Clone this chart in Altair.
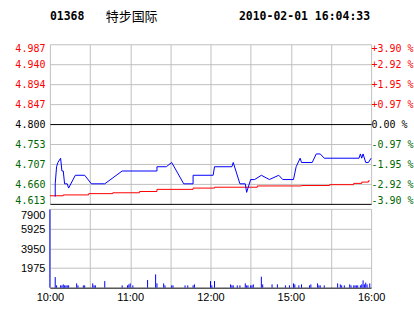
import altair as alt
import pandas as pd

# ---------------- data ----------------
stock_code = "01368"
stock_name = "特步国际"
stamp = "2010-02-01 16:04:33"

# intraday price vertices (minute index from 10:00, lunch break removed)
price_min = [4, 4, 5, 6, 8, 9, 10, 11, 13, 14,
             19, 26, 31, 41, 54, 80, 80, 87, 91, 100,
             107, 107, 122, 123, 136, 137, 142, 146, 147, 148,
             150, 153, 158, 164, 171, 174, 182, 184, 187, 188,
             196, 199, 202, 205, 231, 232, 233, 234, 236, 238,
             240]
price_val = [4.63, 4.66, 4.70, 4.71, 4.72, 4.69, 4.69, 4.66, 4.66, 4.65,
             4.68, 4.68, 4.66, 4.66, 4.69, 4.69, 4.70, 4.70, 4.71, 4.66,
             4.66, 4.68, 4.68, 4.70, 4.70, 4.71, 4.66, 4.66, 4.64, 4.65,
             4.67, 4.67, 4.68, 4.67, 4.68, 4.67, 4.67, 4.70, 4.72, 4.71,
             4.71, 4.73, 4.73, 4.72, 4.72, 4.73, 4.72, 4.73, 4.71, 4.71,
             4.72]

# average price (step line)
avg_min = [0, 10, 29, 47, 67, 80, 107, 123, 155, 188, 209, 227, 233, 238, 239]
avg_val = [4.632, 4.634, 4.637, 4.639, 4.642, 4.647, 4.650, 4.652, 4.655,
           4.656, 4.658, 4.661, 4.664, 4.667, 4.667]

# volume per minute
vol_min = [0, 4, 5, 8, 9, 10, 11, 12, 13, 14,
           20, 21, 25, 26, 32, 33, 34, 41, 54, 58,
           59, 60, 62, 73, 79, 80, 85, 86, 91, 92,
           101, 103, 107, 108, 120, 121, 123, 135, 136, 137,
           140, 142, 146, 147, 148, 150, 151, 152, 158, 159,
           166, 170, 176, 179, 182, 183, 186, 188, 194, 195,
           200, 201, 202, 205, 215, 217, 218, 220, 224, 225,
           227, 228, 229, 230, 232, 233, 234, 235, 236, 237,
           239]
vol_val = [7850, 1060, 230, 230, 230, 330, 230, 230, 230, 230,
           430, 230, 230, 230, 430, 230, 230, 660, 230, 230,
           330, 430, 230, 770, 1330, 430, 430, 230, 230, 230,
           230, 230, 230, 330, 660, 230, 660, 330, 230, 230,
           230, 230, 430, 230, 230, 230, 230, 330, 1100, 330,
           330, 330, 230, 230, 430, 330, 230, 330, 230, 330,
           430, 230, 230, 230, 430, 330, 230, 230, 330, 230,
           230, 230, 230, 230, 230, 330, 730, 330, 500, 330,
           430]

prev_close = 4.800
price_ticks = [4.613, 4.660, 4.707, 4.753, 4.800, 4.847, 4.894, 4.940, 4.987]
price_labels = ["4.613", "4.660", "4.707", "4.753", "4.800", "4.847", "4.894", "4.940", "4.987"]
pct_labels = ["-3.90 %", "-2.92 %", "-1.95 %", "-0.97 %", "\u00a00.00 %",
              "+0.97 %", "+1.95 %", "+2.92 %", "+3.90 %"]
vol_ticks = [0, 1975, 3950, 5925, 7900]
time_grid = [0, 30, 60, 90, 120, 150, 180, 210, 240]
time_tick_min = [0, 60, 120, 180, 240]
time_labels = ["10:00", "11:00", "12:00", "15:00", "16:00"]

assert len(price_min) == len(price_val)
assert len(avg_min) == len(avg_val)
assert len(vol_min) == len(vol_val)

price_df = pd.DataFrame({"i": range(len(price_min)), "m": price_min, "p": price_val})
avg_df = pd.DataFrame({"m": avg_min, "p": avg_val})
vol_df = pd.DataFrame({"m": vol_min, "v": vol_val})
hdr_df = pd.DataFrame({"code": [stock_code], "name": [stock_name], "stamp": [stamp]})


def lookup_expr(values, labels, tol):
    parts = [f"abs(datum.value - {v}) < {tol} ? '{s}' : " for v, s in zip(values, labels)]
    return "".join(parts) + "''"


GRID = "#c0c0c0"
RED = "#ff0000"
GREEN = "#006600"
BLUE = "#0000ff"
MONO = "DejaVu Sans Mono"
SANS = "Liberation Sans"

label_color = {
    "condition": [
        {"test": f"datum.value > {prev_close + 0.001}", "value": RED},
        {"test": f"datum.value < {prev_close - 0.001}", "value": GREEN},
    ],
    "value": "#000000",
}

xscale = alt.Scale(domain=[0, 240], nice=False, zero=False)
yscale = alt.Scale(domain=[price_ticks[0], price_ticks[-1]], nice=False, zero=False)

x_price = alt.X("m:Q", scale=xscale, axis=alt.Axis(
    values=time_grid, grid=True, gridColor=GRID, gridWidth=1,
    labels=False, ticks=False, domain=False, title=None))

left_axis = alt.Axis(
    orient="left", values=price_ticks, grid=True, gridWidth=1,
    gridColor={"condition": {"test": f"abs(datum.value - {prev_close}) < 0.001 || datum.value < {price_ticks[0] + 0.001}",
                             "value": "#000000"}, "value": GRID},
    domain=False, ticks=False, labelPadding=5, labelFont=MONO, labelFontSize=10,
    labelColor=label_color, labelExpr=lookup_expr(price_ticks, price_labels, 0.001),
    labelOffset=0.5, labelFlush=True, labelFlushOffset=1, labelOverlap=False, title=None)

right_axis = alt.Axis(
    orient="right", values=price_ticks, grid=False, domain=False, ticks=False,
    labelPadding=0, labelFont=MONO, labelFontSize=10, labelColor=label_color,
    labelExpr=lookup_expr(price_ticks, pct_labels, 0.001), labelOffset=0.5,
    labelFlush=True, labelFlushOffset=1, labelOverlap=False, title=None)

price_line = alt.Chart(price_df).mark_line(color=BLUE, strokeWidth=1).encode(
    x=x_price, y=alt.Y("p:Q", scale=yscale, axis=left_axis), order="i:Q")

avg_line = alt.Chart(avg_df).mark_line(color=RED, strokeWidth=1, interpolate="step-after").encode(
    x=x_price, y=alt.Y("p:Q", scale=yscale, axis=right_axis))

code_text = alt.Chart(hdr_df).mark_text(
    align="left", baseline="middle", font=MONO, fontWeight="bold", fontSize=11.5, color="black"
).encode(x=alt.value(0), y=alt.value(-27), text="code:N")

name_text = alt.Chart(hdr_df).mark_text(
    align="left", baseline="middle", font="Noto Sans CJK SC", fontSize=13, color="black"
).encode(x=alt.value(56), y=alt.value(-27), text="name:N")

stamp_text = alt.Chart(hdr_df).mark_text(
    align="right", baseline="middle", font=MONO, fontWeight="bold", fontSize=11.5, color="black"
).encode(x=alt.value(321), y=alt.value(-27), text="stamp:N")

price_panel = alt.layer(avg_line, price_line, code_text, name_text, stamp_text).resolve_axis(
    y="independent").properties(width=322, height=160)

vol_chart = alt.Chart(vol_df).mark_rule(color=BLUE, strokeWidth=1).encode(
    x=alt.X("m:Q", scale=xscale, axis=alt.Axis(
        values=time_grid, grid=True, gridColor=GRID, gridWidth=1, ticks=False, domain=False,
        labelExpr=lookup_expr(time_tick_min, time_labels, 0.5), labelFlush=False,
        labelOverlap=False, labelFont=SANS, labelFontSize=11, labelColor="#000000",
        labelPadding=4, title=None)),
    y=alt.Y("v:Q", scale=alt.Scale(domain=[vol_ticks[0], vol_ticks[-1]], nice=False, zero=True),
            axis=alt.Axis(values=vol_ticks, grid=True, gridWidth=1,
                          gridColor={"condition": {"test": "datum.value < 1", "value": "#000000"}, "value": GRID},
                          domain=False, ticks=False, format="d",
                          labelExpr="datum.value < 1 ? '' : datum.label",
                          labelFont=SANS, labelFontSize=11, labelColor="#000000",
                          labelFlush=True, labelFlushOffset=0, labelOffset=1,
                          labelPadding=5, labelOverlap=False, title=None)),
    y2=alt.datum(0),
).properties(width=322, height=79)

chart = alt.vconcat(price_panel, vol_chart, spacing=5, bounds="flush").properties(
    padding={"left": 14, "top": 11, "right": 0, "bottom": 0},
    background="white",
).configure_view(stroke=None)

chart.save("out.html", embed_options={"renderer": "svg", "actions": False})
